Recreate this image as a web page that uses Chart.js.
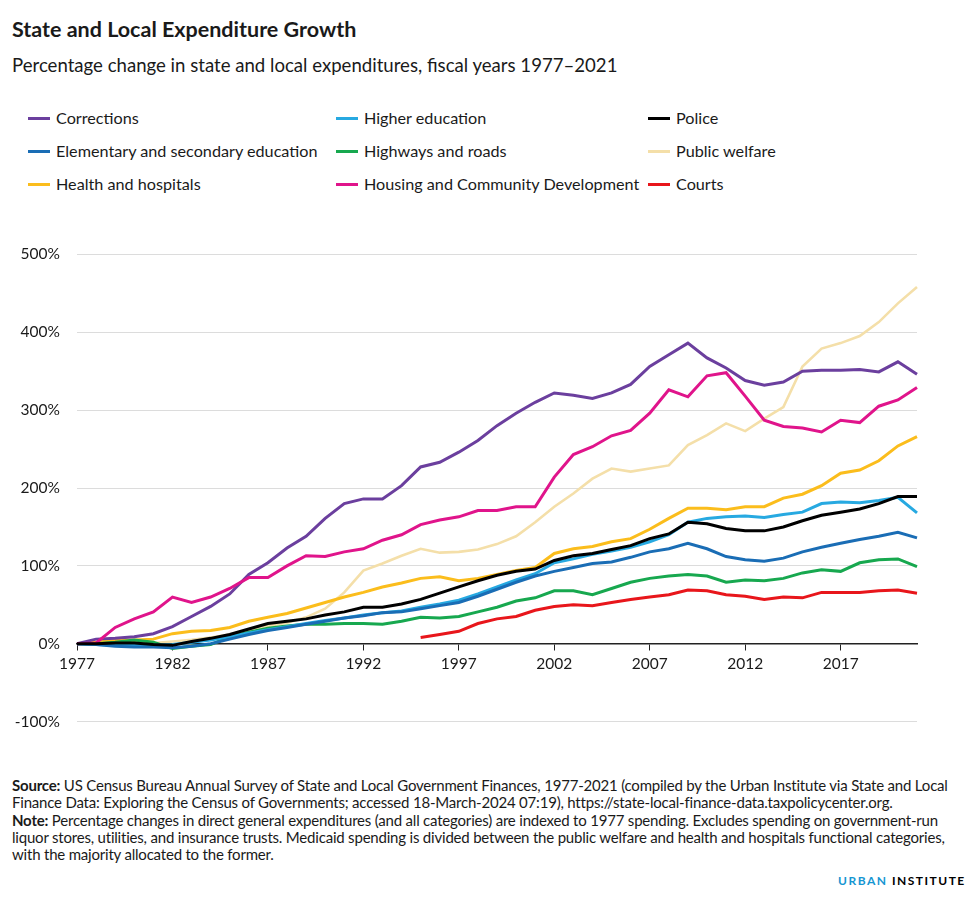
<!DOCTYPE html>
<html>
<head>
<meta charset="utf-8">
<script src="https://cdn.jsdelivr.net/npm/chart.js@4.4.1/dist/chart.umd.min.js"></script>
<style>
  html, body { margin: 0; padding: 0; background: #fff; }
  body { width: 971px; height: 924px; position: relative; overflow: hidden; font-family: Lato, "Noto Sans", sans-serif; color: #1a1a1a; }
  .title { position: absolute; left: 12px; top: 16px; font-size: 21.5px; font-weight: 700; white-space: nowrap; }
  .subtitle { position: absolute; left: 12px; top: 54px; font-size: 18.6px; white-space: nowrap; }
  .legend { position: absolute; top: 107px; left: 0; }
  .li { position: absolute; white-space: nowrap; font-size: 16.2px; height: 22px; line-height: 22px; }
  .li .sw { display: inline-block; width: 22px; height: 3px; vertical-align: middle; margin-right: 6px; position: relative; top: -1px; }
  #wrap { position: absolute; left: 0; top: 228px; width: 971px; height: 520px; }
  .foot { position: absolute; left: 12px; top: 777px; font-size: 15px; line-height: 17.3px; white-space: nowrap; letter-spacing: -0.2px; color: #1a1a1a; }
  .logo { position: absolute; left: 838px; top: 873px; font-size: 12px; font-weight: 700; letter-spacing: 1.5px; white-space: nowrap; }
</style>
</head>
<body>
<div class="title">State and Local Expenditure Growth</div>
<div class="subtitle">Percentage change in state and local expenditures, fiscal years 1977–2021</div>
<div class="legend" id="legend"></div>
<div id="wrap"><canvas id="c" width="971" height="520"></canvas></div>
<div class="foot"><b>Source:</b> US Census Bureau Annual Survey of State and Local Government Finances, 1977-2021 (compiled by the Urban Institute via State and Local<br>Finance Data: Exploring the Census of Governments; accessed 18-March-2024 07:19), https://state-local-finance-data.taxpolicycenter.org.<br><b>Note:</b> Percentage changes in direct general expenditures (and all categories) are indexed to 1977 spending. Excludes spending on government-run<br>liquor stores, utilities, and insurance trusts. Medicaid spending is divided between the public welfare and health and hospitals functional categories,<br>with the majority allocated to the former.</div>
<div class="logo"><span style="color:#1696d2">URBAN</span><span style="color:#000"> INSTITUTE</span></div>
<script>
const years = [1977,1978,1979,1980,1981,1982,1983,1984,1985,1986,1987,1988,1989,1990,1991,1992,1993,1994,1995,1996,1997,1998,1999,2000,2001,2002,2003,2004,2005,2006,2007,2008,2009,2010,2011,2012,2013,2014,2015,2016,2017,2018,2019,2020,2021];

const corrections = [0,6,7,9,13,22,35,48,64,89,104,123,138,161,180,186,186,203,227,233,246,261,280,296,310,322,319,315,322,333,356,371,386,367,354,338,332,336,350,351,351,352,349,362,346];
const higherEducation = [0,-1,-2,-2,-2,-1,2,5,9,14,18,22,26,30,33,37,40,42,47,51,56,64,73,82,90,104,109,115,119,124,131,140,156,161,163,164,162,166,169,180,182,181,184,188,168];
const police = [0,0,1,1,-1,-2,3,7,12,19,26,29,32,37,41,47,47,51,57,65,73,81,88,93,96,107,113,116,121,126,135,141,156,154,148,145,145,150,158,165,169,173,180,189,189];
const elementarySecondary = [0,-1,-3,-4,-4,-5,-3,0,6,12,17,21,25,29,33,36,40,41,45,49,53,61,70,79,87,93,98,103,105,111,118,122,129,122,112,108,106,110,118,124,129,134,138,143,136];
const highways = [0,0,2,5,2,-6,-3,-1,9,15,20,23,25,25,26,26,25,29,34,33,35,41,47,55,59,68,68,63,71,79,84,87,89,87,79,82,81,84,91,95,93,104,108,109,99];
const publicWelfare = [0,2,3,2,1,3,5,8,12,18,23,27,34,45,66,94,103,113,122,117,118,121,128,138,156,176,193,212,225,221,225,229,255,268,283,273,289,304,356,379,386,395,413,437,458];
const healthHospitals = [0,2,5,5,6,13,16,17,21,29,34,39,46,53,60,66,73,78,84,86,81,84,89,94,98,116,122,125,131,135,147,161,174,174,172,176,176,187,192,203,219,223,235,254,266];
const housing = [0,1,21,32,41,60,53,60,71,85,85,100,113,112,118,122,133,140,153,159,163,171,171,176,176,214,243,253,267,274,296,326,317,344,348,318,287,279,277,272,287,284,305,313,329];
const courts = [null,null,null,null,null,null,null,null,null,null,null,null,null,null,null,null,null,null,8,12,16,26,32,35,43,48,50,49,53,57,60,63,69,68,63,61,57,60,59,66,66,66,68,69,65];

const yTicks = [-100,0,100,200,300,400,500];

const seriesNames = ["Corrections","Higher education","Police","Elementary and secondary education","Highways and roads","Public welfare","Health and hospitals","Housing and Community Development","Courts"];
const seriesData = [corrections, higherEducation, police, elementarySecondary, highways, publicWelfare, healthHospitals, housing, courts];
const seriesColors = ["#6b3f9e","#27a9e1","#000000","#1a6db5","#17a84f","#f4dfa9","#fbbd1c","#e0148b","#e8161b"];

// HTML legend (3 columns, row-major)
const legendCols = [28, 336, 648];
const legendRowsY = [0, 33, 66];
const legendEl = document.getElementById('legend');
seriesNames.forEach((n, i) => {
  const d = document.createElement('div');
  d.className = 'li';
  d.style.left = legendCols[i % 3] + 'px';
  d.style.top = legendRowsY[Math.floor(i / 3)] + 'px';
  d.innerHTML = '<span class="sw" style="background:' + seriesColors[i] + '"></span>' + n;
  legendEl.appendChild(d);
});

const drawOrder = {"Corrections":3,"Higher education":5,"Police":1,"Elementary and secondary education":4,"Highways and roads":6,"Public welfare":8,"Health and hospitals":7,"Housing and Community Development":2,"Courts":9};

const datasets = seriesNames.map((n, i) => ({
  label: n,
  data: seriesData[i],
  borderColor: seriesColors[i],
  backgroundColor: seriesColors[i],
  borderWidth: n === "Public welfare" ? 2.6 : 3,
  pointRadius: 0,
  tension: 0,
  fill: false,
  spanGaps: false,
  order: drawOrder[n]
}));

new Chart(document.getElementById('c'), {
  type: 'line',
  data: { labels: years, datasets },
  options: {
    responsive: false,
    animation: false,
    events: [],
    layout: { padding: { top: 14, right: 54, bottom: 19, left: 0 } },
    plugins: { legend: { display: false }, tooltip: { enabled: false }, title: { display: false } },
    scales: {
      x: {
        type: 'category',
        position: { y: 0 },
        offset: false,
        afterFit: (s) => { s.height = 0; },
        grid: { display: true, drawOnChartArea: false, drawTicks: true, tickLength: 6, color: '#222', lineWidth: 1 },
        border: { display: true, color: '#222', width: 1.5 },
        ticks: {
          autoSkip: false,
          maxRotation: 0,
          padding: 5,
          color: '#1a1a1a',
          font: { family: 'Lato', size: 15.5 },
          callback: function(v, i) { return (years[i] - 1977) % 5 === 0 ? String(years[i]) : null; }
        }
      },
      y: {
        min: -100,
        max: 500,
        afterFit: (s) => { s.width = 77; },
        afterBuildTicks: (s) => { s.ticks = yTicks.map(v => ({ value: v })); },
        grid: { color: '#dcdcdc', lineWidth: 1, drawTicks: false },
        border: { display: false },
        ticks: {
          padding: 17,
          color: '#1a1a1a',
          font: { family: 'Lato', size: 15.5 },
          callback: (v) => v + '%'
        }
      }
    }
  }
});
</script>
</body>
</html>
